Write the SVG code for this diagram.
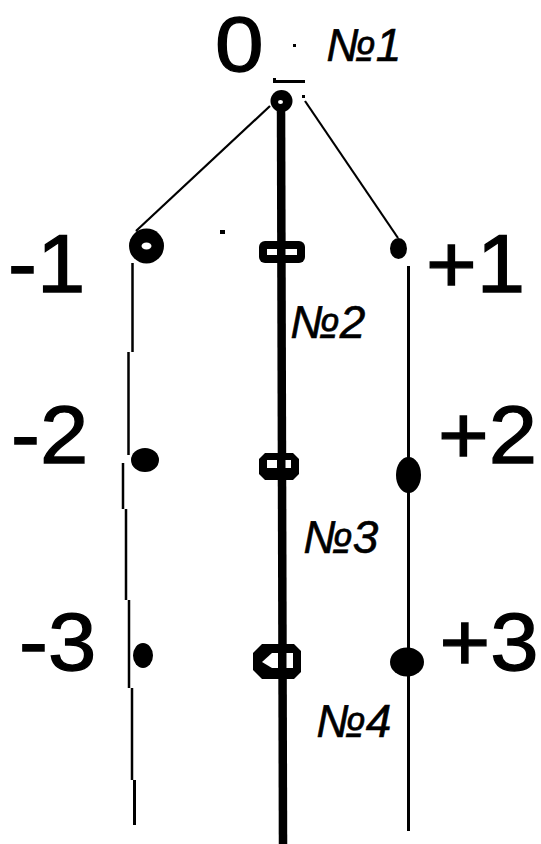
<svg xmlns="http://www.w3.org/2000/svg" width="541" height="844" viewBox="0 0 541 844">
<style>
.num{font-family:"Liberation Sans",Arial,sans-serif;font-size:82px;fill:#000;stroke:#000;stroke-width:1.3}
.lab{font-family:"Liberation Sans",Arial,sans-serif;font-size:46px;font-style:italic;fill:#000;stroke:#000;stroke-width:0.6}
.thin{stroke:#000;stroke-width:2.2;fill:none}
.vl{stroke:#000;stroke-width:2.5;fill:none}
</style>
<rect width="541" height="844" fill="#fff"/>
<g id="connectors">
<line class="thin" x1="270" y1="106" x2="136" y2="231"/>
<line class="thin" x1="305" y1="101" x2="398" y2="238"/>
<line x1="281" y1="102" x2="283" y2="844" stroke="#000" stroke-width="8.5"/>
<path class="vl" d="M132.5 263V352M128.5 352V455M123 463V509M126 509V600M129 600V688M132 688V780"/>
<line x1="134.5" y1="780" x2="134.5" y2="825" stroke="#000" stroke-width="3"/>
<line x1="408.5" y1="266" x2="408.5" y2="831" stroke="#000" stroke-width="3"/>
</g>
<g id="top-marks">
<rect x="273" y="80" width="32" height="3" fill="#000"/>
<rect x="273" y="78" width="3" height="3" fill="#000"/>
<rect x="293" y="44" width="3" height="3" fill="#000"/>
<rect x="302" y="95" width="3" height="3" fill="#000"/>
<rect x="220" y="230" width="5" height="4" fill="#000"/>
</g>
<g id="node-0">
<circle cx="281.5" cy="101" r="11" fill="#000"/>
<ellipse cx="280.5" cy="102" rx="2.5" ry="2" fill="#fff"/>
<text class="num" style="font-size:78px" transform="translate(215 71) scale(1.12 1)">0</text>
<text class="lab" x="326" y="61">№1</text>
</g>
<g id="node-m1">
<circle cx="146.5" cy="246" r="17.5" fill="#000"/>
<ellipse cx="146.5" cy="246" rx="5" ry="3.5" fill="#fff"/>
<text class="num" transform="translate(8 292) scale(1.06 1)">-1</text>
</g>
<g id="node-p1">
<ellipse cx="398.5" cy="248.5" rx="8.5" ry="10.5" fill="#000"/>
<text class="num" transform="translate(426 292) scale(1.06 1)">+1</text>
</g>
<g id="node-c1">
<rect x="259" y="241" width="46" height="22" rx="6" fill="#000"/>
<rect x="267" y="249" width="30" height="6" fill="#fff"/>
<rect x="277" y="241" width="8.5" height="22" fill="#000"/>
<text class="lab" x="290" y="338">№2</text>
</g>
<g id="node-m2">
<ellipse cx="145" cy="460" rx="14" ry="12" fill="#000"/>
<text class="num" transform="translate(11 463) scale(1.06 1)">-2</text>
</g>
<g id="node-p2">
<ellipse cx="408.5" cy="475" rx="12.5" ry="18" fill="#000"/>
<text class="num" transform="translate(438 463) scale(1.06 1)">+2</text>
</g>
<g id="node-c2">
<path d="M265 453H293L299 459V474L293 480H265L259 474V459Z" fill="#000"/>
<rect x="267" y="460" width="24" height="8" fill="#fff"/>
<rect x="277" y="453" width="8.5" height="27" fill="#000"/>
<text class="lab" x="303" y="553">№3</text>
</g>
<g id="node-m3">
<ellipse cx="143" cy="655.5" rx="10" ry="12.5" fill="#000"/>
<text class="num" transform="translate(19 670) scale(1.06 1)">-3</text>
</g>
<g id="node-p3">
<ellipse cx="407" cy="662" rx="17" ry="14.5" fill="#000"/>
<text class="num" transform="translate(439.5 670) scale(1.06 1)">+3</text>
</g>
<g id="node-c3">
<path d="M262 644H294L301 651V672L294 679H262L253 670V653Z" fill="#000"/>
<path d="M262 662L272 653H293V668H272Z" fill="#fff"/>
<rect x="278" y="644" width="8.5" height="35" fill="#000"/>
<text class="lab" x="316" y="737">№4</text>
</g>
</svg>
